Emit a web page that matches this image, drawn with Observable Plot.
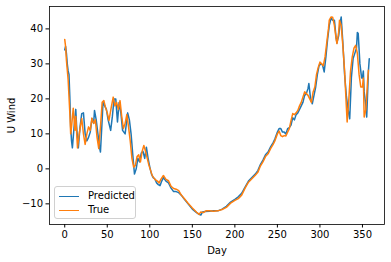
<!DOCTYPE html>
<html>
<head>
<meta charset="utf-8">
<script src="https://cdn.jsdelivr.net/npm/d3@7"></script>
<script src="https://cdn.jsdelivr.net/npm/@observablehq/plot@0.6"></script>
<style>
  html, body { margin: 0; padding: 0; background: white; }
  #wrap { position: relative; width: 391px; height: 262px; font-family: "DejaVu Sans", sans-serif; }
  #legend { position: absolute; left: 54px; top: 186px; width: 82px; height: 33px; box-sizing: border-box;
    border: 1px solid #d0d0d0; border-radius: 3px; background: rgba(255,255,255,0.8); font-size: 10px; color: #000; }
  .row { position: absolute; left: 0; height: 12px; display: flex; align-items: center; }
  .sw { position: absolute; left: 4px; width: 20px; height: 0; border-top: 1.5px solid; }
  .lab { position: absolute; left: 33px; white-space: nowrap; line-height: 12px; }
</style>
</head>
<body>
<div id="wrap">
  <div id="chart"></div>
  <div id="legend"></div>
</div>
<script>
const xTicks = [0, 50, 100, 150, 200, 250, 300, 350];
const yTicks = [-10, 0, 10, 20, 30, 40];
const seriesNames = ["Predicted", "True"];
const seriesColors = ["#1f77b4", "#ff7f0e"];

const predDays = [0,1,2,3,4,5,6,7,8,9,11,13,14,16,18,20,22,24,26,28,30,32,34,35,37,39,41,42,44,45,47,49,51,54,56,58,60,62,64,66,68,71,74,76,78,80,82,84,86,88,90,92,94,96,98,100,102,104,106,108,110,112,114,116,119,122,125,128,131,134,137,140,145,150,155,158,160,162,165,170,175,180,185,190,195,200,204,208,212,216,220,224,227,230,233,236,239,242,245,247,250,252,254,256,258,260,262,264,266,268,270,272,274,276,278,280,282,284,286,287,289,291,293,295,297,299,301,303,305,307,309,311,313,315,317,319,320,322,324,325,327,329,331,333,335,337,339,341,343,344,345,347,349,350,351,352,354,355,357,358];
const predVals = [34,35,33,30,28,27,20.5,12,8,6,12,17,12,6,12,15.8,16,10,8,9,10.5,14.4,13,16.7,14,10,6,4.8,14,19,18,17,14,11,15,20,20,13.4,19,16,11,10,16,14,10,4,-1.5,0,3,2,4.5,5,3,6.2,3,0.5,-1.5,-2.5,-2.9,-4,-4.5,-4.8,-3.5,-2.5,-3.5,-4,-5.5,-6.5,-6.5,-6.8,-7.5,-8.5,-10,-11.5,-12.5,-13,-13.2,-12.3,-12.2,-12.1,-12,-12,-11.5,-10.7,-9.5,-8.7,-8,-7,-5.2,-3.5,-2.5,-1.5,-0.5,1.2,2.5,4,4.8,6.3,7.5,8.5,10.5,11.5,11.5,10.5,10.5,10,11.5,11.8,12.5,14.6,14,15.5,16,17,18,19,21,21.5,23,24.4,20,18.6,21,23.4,27,29.5,30,29.7,27.7,32,37,41,43,42.5,42.5,37.5,36,38,42,43.4,35.8,27,21,17,14.3,26.2,31.5,33,34.5,39,38.7,30,26,26,28,22,18,14.8,28,31.5];

const trueDays = [0,1,2,4,6,7,8,10,12,13,15,17,20,22,24,26,28,30,32,34,36,38,40,42,44,46,48,50,52,55,57,59,61,63,65,67,69,71,73,75,77,79,81,83,85,87,89,91,93,95,97,99,101,103,106,109,111,113,116,119,122,125,128,131,134,137,140,145,150,155,158,160,163,166,170,175,180,185,190,195,200,204,208,212,216,220,224,227,230,233,236,239,242,245,247,250,252,254,256,258,260,262,264,266,268,270,272,274,276,278,280,282,284,286,288,290,292,294,296,298,300,302,304,306,308,310,311,313,315,317,319,320,322,323,325,327,329,331,332,334,336,338,340,342,344,346,348,350,351,352,354,356,357];
const trueVals = [37,35,31,25.5,16,10,12,17.3,11,15,6,10,14.4,10,7,10,12,11,14.5,13,14,9,5.8,12,19,19.5,17.5,16,13.8,18,20.5,18,19,17,19.5,15,11.5,13,15.5,12,8,3,0.5,1,3.5,4,2,5,6.7,5,3,1,-0.5,-2,-3,-3.5,-4,-3,-1.9,-3,-3.4,-5,-5.6,-5.8,-6.2,-7.5,-8.3,-9.8,-11.2,-12.4,-13,-12.3,-12.5,-12,-12,-12.1,-12,-11.6,-11,-9.8,-9,-8.5,-7.5,-5.5,-3.8,-2.8,-1.8,-1,0.8,2,3.5,4.3,5.8,7,8,10,10.8,9.5,9.2,9.5,9.4,10.5,11.5,13.8,15.8,15.5,16,16.7,18,19,20.5,22,21.5,21,20,19,22,23.4,27,29,30.5,30,29.5,32,36,40,42.5,43.4,43.3,41,37.2,35.8,39,42.5,41,35,28,18,13.4,20,28,32,34.5,35.3,33,27,23.4,23.4,26,14.8,17,25,28.2];

const pred = predDays.map((d, i) => ({day: d, value: predVals[i]}));
const truth = trueDays.map((d, i) => ({day: d, value: trueVals[i]}));

const chart = Plot.plot({
  width: 391,
  height: 262,
  marginLeft: 49,
  marginRight: 7,
  marginTop: 6,
  marginBottom: 38,
  x: {domain: [-17.9, 375.9]},
  y: {domain: [-15.9, 46.4]},
  style: {fontFamily: "DejaVu Sans, sans-serif", fontSize: "10px", color: "#000", background: "white"},
  marks: [
    Plot.axisX({ticks: xTicks, tickSize: 3.5, tickPadding: 3, label: "Day", labelAnchor: "center", labelArrow: "none", labelOffset: 29, fontSize: 10}),
    Plot.axisY({ticks: yTicks, tickSize: 3.5, tickPadding: 3, label: "U Wind", labelAnchor: "center", labelArrow: "none", labelOffset: 42, fontSize: 10}),
    Plot.line(pred, {x: "day", y: "value", stroke: seriesColors[0], strokeWidth: 1.5}),
    Plot.line(truth, {x: "day", y: "value", stroke: seriesColors[1], strokeWidth: 1.5}),
    Plot.frame({stroke: "#000", strokeWidth: 0.8})
  ]
});
document.getElementById("chart").appendChild(chart);

const legend = document.getElementById("legend");
seriesNames.forEach((name, i) => {
  const row = document.createElement("div");
  row.className = "row";
  row.style.top = (3 + i * 14) + "px";
  row.innerHTML = `<span class="sw" style="border-color:${seriesColors[i]}"></span><span class="lab">${name}</span>`;
  legend.appendChild(row);
});
</script>
</body>
</html>
